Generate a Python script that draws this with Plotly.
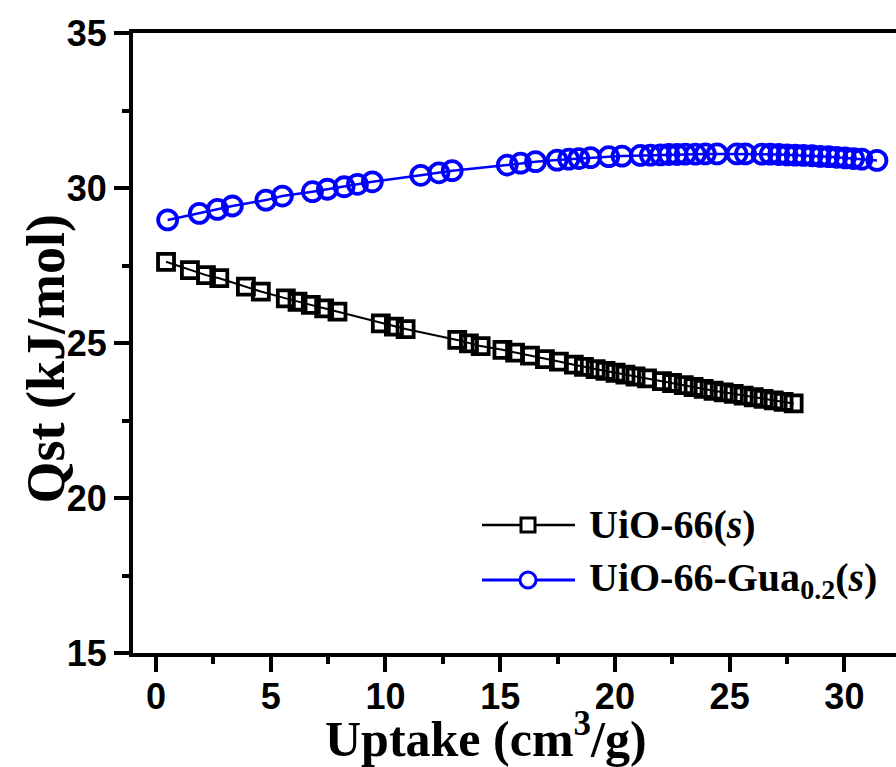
import plotly.graph_objects as go

# Isosteric heat of adsorption vs. uptake
uio66_x = [0.44, 1.48, 2.18, 2.76, 3.92, 4.57, 5.66, 6.17, 6.75, 7.33, 7.91,
           9.80, 10.37, 10.88, 13.13, 13.64, 14.15, 15.10, 15.65, 16.30,
           16.95, 17.56, 18.21, 18.65, 19.16, 19.59, 20.03, 20.46, 20.90,
           21.40, 22.05, 22.49, 23.00, 23.43, 23.87, 24.30, 24.74, 25.18,
           25.61, 26.05, 26.48, 26.92, 27.35, 27.79]
uio66_y = [27.62, 27.35, 27.19, 27.09, 26.82, 26.66, 26.44, 26.33, 26.23,
           26.12, 26.01, 25.63, 25.53, 25.45, 25.10, 24.99, 24.90, 24.78,
           24.69, 24.59, 24.48, 24.40, 24.30, 24.23, 24.16, 24.10, 24.04,
           23.98, 23.92, 23.86, 23.77, 23.71, 23.64, 23.58, 23.52, 23.46,
           23.41, 23.36, 23.30, 23.25, 23.20, 23.15, 23.10, 23.05]

gua_x = [0.51, 1.89, 2.68, 3.33, 4.79, 5.51, 6.82, 7.47, 8.20, 8.78, 9.43,
         11.54, 12.33, 12.91, 15.31, 15.89, 16.54, 17.48, 17.99, 18.43,
         18.94, 19.73, 20.31, 21.11, 21.55, 21.99, 22.35, 22.71, 23.07,
         23.51, 23.94, 24.45, 25.32, 25.69, 26.41, 26.77, 27.14, 27.50,
         27.86, 28.22, 28.59, 28.95, 29.31, 29.67, 30.04, 30.40, 30.76, 31.42]
gua_y = [28.97, 29.18, 29.31, 29.42, 29.61, 29.74, 29.88, 29.96, 30.04,
         30.12, 30.20, 30.41, 30.49, 30.56, 30.74, 30.80, 30.85, 30.90,
         30.93, 30.95, 30.98, 31.01, 31.03, 31.05, 31.06, 31.07, 31.08,
         31.08, 31.09, 31.09, 31.10, 31.10, 31.10, 31.10, 31.09, 31.09,
         31.08, 31.07, 31.06, 31.05, 31.04, 31.02, 31.01, 30.99, 30.97,
         30.95, 30.93, 30.89]

series_names = ["UiO-66(<i>s</i>)", "UiO-66-Gua<sub>0.2</sub>(<i>s</i>)"]
x_ticks = [0, 5, 10, 15, 20, 25, 30]
y_ticks = [15, 20, 25, 30, 35]

SERIF = "Liberation Serif, Times New Roman, serif"
SANS = "Liberation Sans, Arial, sans-serif"
BLUE = "#0000ff"

fig = go.Figure()
fig.add_trace(go.Scatter(
    x=uio66_x, y=uio66_y, mode="lines+markers", name=series_names[0],
    line=dict(color="black", width=2),
    marker=dict(symbol="square-open", size=16, color="black",
                line=dict(width=3.8, color="black")),
))
fig.add_trace(go.Scatter(
    x=gua_x, y=gua_y, mode="lines+markers", name=series_names[1],
    line=dict(color=BLUE, width=2.5),
    marker=dict(symbol="circle-open", size=19, color=BLUE,
                line=dict(width=3.8, color=BLUE)),
))

axis_common = dict(
    showgrid=False, zeroline=False,
    showline=True, linecolor="black", linewidth=4,
    ticks="outside", ticklen=15, tickwidth=3.5, tickcolor="black",
    tickfont=dict(family=SANS, size=36, color="black", weight="bold"),
)

fig.update_xaxes(
    **axis_common,
    range=[-1, 32.25], tickvals=x_ticks, mirror=True, ticklabelstandoff=-6,
    minor=dict(ticks="outside", ticklen=7, tickwidth=3.5, dtick=2.5,
               tick0=0, tickcolor="black"),
)
fig.update_yaxes(
    **axis_common,
    range=[15, 35], tickvals=y_ticks,
    minor=dict(ticks="outside", ticklen=7, tickwidth=3.5, dtick=2.5,
               tick0=15, tickcolor="black"),
)

# Axis titles
title_font = dict(family=SERIF, color="black", weight="bold")
fig.add_annotation(
    text="Uptake (cm<sup>3</sup>/g)", xref="paper", yref="paper",
    x=0.4626, y=-0.133, xanchor="center", yanchor="middle", showarrow=False,
    font=dict(size=50, **title_font),
)
fig.add_annotation(
    text="Qst (kJ/mol)", xref="paper", yref="paper", textangle=-90,
    x=-0.1153, y=0.475, xanchor="center", yanchor="middle", showarrow=False,
    font=dict(size=54, **title_font),
)

# Legend: line + symbol keys with labels
legend_rows = [
    dict(y=0.2065, color="black", shape="rect", half=7, width=2.5),
    dict(y=0.1177, color=BLUE, shape="circle", half=8, width=3),
]
for name, row in zip(series_names, legend_rows):
    fig.add_shape(type="line", xref="paper", yref="paper",
                  x0=0.4574, x1=0.5793, y0=row["y"], y1=row["y"],
                  line=dict(color=row["color"], width=row["width"]))
    fig.add_shape(type=row["shape"], xref="paper", yref="paper",
                  xsizemode="pixel", ysizemode="pixel",
                  xanchor=0.5177, yanchor=row["y"],
                  x0=-row["half"], x1=row["half"],
                  y0=-row["half"], y1=row["half"],
                  fillcolor="white", line=dict(color=row["color"], width=3))
    fig.add_annotation(
        text=name, xref="paper", yref="paper", x=0.595, y=row["y"],
        xanchor="left", yanchor="middle", showarrow=False,
        font=dict(family=SERIF, size=40, color="black", weight="bold"),
    )

fig.update_layout(
    width=896, height=767,
    margin=dict(l=133, r=0, t=33, b=114, autoexpand=False),
    plot_bgcolor="white", paper_bgcolor="white",
    showlegend=False,
)

fig.write_html("out.html")
